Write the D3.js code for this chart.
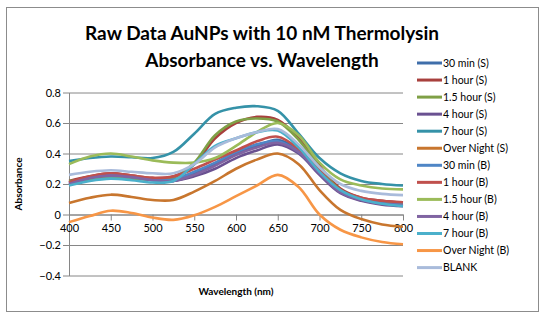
<!DOCTYPE html>
<html lang="en">
<head>
<meta charset="UTF-8">
<script src="https://d3js.org/d3.v7.min.js"></script>
<style>
    body { margin: 0; background: #fff; }
    svg text { font-family: Lato, "Open Sans", sans-serif; fill: #000; }
    .axis path, .axis line { stroke: #868686; }
    .axis text { font-size: 11px; }
</style>
<title>Absorbance vs. Wavelength</title>
</head>
<body>
<svg width="544" height="321"></svg>
<script>
    // wavelength samples (nm)
    const wavelengths = [400, 425, 450, 475, 500, 525, 550, 575, 600, 625, 650, 675, 700, 725, 750, 775, 800];

    const seriesNames = ['30 min (S)', '1 hour (S)', '1.5 hour (S)', '4 hour (S)', '7 hour (S)', 'Over Night (S)',
        '30 min (B)', '1 hour (B)', '1.5 hour (B)', '4 hour (B)', '7 hour (B)', 'Over Night (B)', 'BLANK'];

    const seriesColors = ['#3f6eaa', '#a8403d', '#7fa046', '#6a5191', '#3592a8', '#c8762e',
        '#4f86c6', '#c0504d', '#9bbb59', '#8064a2', '#4bb0cb', '#f79646', '#a9bbdb'];

    // absorbance per series, one value per wavelength
    const min30S  = [0.20, 0.23, 0.25, 0.24, 0.225, 0.22, 0.27, 0.33, 0.40, 0.45, 0.49, 0.42, 0.28, 0.15, 0.10, 0.075, 0.065];
    const hour1S  = [0.22, 0.25, 0.27, 0.255, 0.24, 0.25, 0.33, 0.50, 0.60, 0.64, 0.62, 0.50, 0.32, 0.17, 0.11, 0.09, 0.08];
    const hour15S = [0.22, 0.23, 0.24, 0.235, 0.23, 0.24, 0.34, 0.52, 0.61, 0.63, 0.61, 0.49, 0.31, 0.16, 0.10, 0.08, 0.07];
    const hour4S  = [0.21, 0.245, 0.26, 0.25, 0.23, 0.22, 0.25, 0.30, 0.37, 0.42, 0.46, 0.40, 0.26, 0.14, 0.09, 0.065, 0.055];
    const hour7S  = [0.35, 0.37, 0.38, 0.375, 0.37, 0.41, 0.53, 0.66, 0.70, 0.71, 0.68, 0.53, 0.37, 0.27, 0.22, 0.20, 0.19];
    const nightS  = [0.075, 0.11, 0.13, 0.115, 0.095, 0.095, 0.15, 0.22, 0.30, 0.36, 0.40, 0.33, 0.16, 0.03, -0.03, -0.065, -0.08];
    const min30B  = [0.20, 0.24, 0.26, 0.245, 0.23, 0.23, 0.28, 0.34, 0.41, 0.46, 0.48, 0.41, 0.27, 0.15, 0.10, 0.075, 0.065];
    const hour1B  = [0.21, 0.25, 0.27, 0.255, 0.24, 0.25, 0.30, 0.36, 0.42, 0.48, 0.51, 0.43, 0.29, 0.16, 0.11, 0.09, 0.08];
    const hour15B = [0.33, 0.38, 0.40, 0.38, 0.355, 0.34, 0.34, 0.37, 0.45, 0.54, 0.60, 0.52, 0.34, 0.23, 0.19, 0.17, 0.165];
    const hour4B  = [0.20, 0.24, 0.255, 0.245, 0.225, 0.22, 0.26, 0.32, 0.39, 0.44, 0.47, 0.41, 0.27, 0.145, 0.095, 0.07, 0.06];
    const hour7B  = [0.19, 0.22, 0.235, 0.225, 0.21, 0.22, 0.33, 0.45, 0.50, 0.54, 0.55, 0.44, 0.28, 0.16, 0.10, 0.07, 0.055];
    const nightB  = [-0.05, -0.01, 0.025, 0.01, -0.02, -0.035, -0.005, 0.05, 0.12, 0.19, 0.26, 0.18, 0.0, -0.10, -0.15, -0.18, -0.195];
    const blank   = [0.26, 0.28, 0.29, 0.28, 0.27, 0.27, 0.33, 0.44, 0.50, 0.54, 0.56, 0.46, 0.31, 0.20, 0.155, 0.135, 0.127];

    const seriesValues = [min30S, hour1S, hour15S, hour4S, hour7S, nightS,
        min30B, hour1B, hour15B, hour4B, hour7B, nightB, blank];

    const xTicks = [400, 450, 500, 550, 600, 650, 700, 750, 800];
    const yTicks = [-0.4, -0.2, 0, 0.2, 0.4, 0.6, 0.8];

    const svg = d3.select('svg');

    // chart area border
    svg.append('rect')
        .attr('x', 6.5).attr('y', 7.5)
        .attr('width', 532).attr('height', 304)
        .attr('fill', '#fff')
        .attr('stroke', '#8c8c8c');

    const plot = { left: 69, right: 403, top: 92.5, bottom: 275.5 };

    const x = d3.scaleLinear().domain([400, 800]).range([plot.left, plot.right]);
    const y = d3.scaleLinear().domain([-0.4, 0.8]).range([plot.bottom, plot.top]);

    // horizontal gridlines + y axis
    svg.append('g')
        .attr('class', 'axis')
        .attr('transform', `translate(${plot.left},0)`)
        .call(d3.axisLeft(y).tickValues(yTicks).tickFormat(d3.format('')).tickSizeOuter(0))
        .call(g => g.selectAll('.tick line').clone()
            .attr('x2', plot.right - plot.left))
        .call(g => g.selectAll('.tick text').attr('x', -8));

    // x axis sits on the zero line
    svg.append('g')
        .attr('class', 'axis')
        .attr('transform', `translate(0,${y(0)})`)
        .call(d3.axisBottom(x).tickValues(xTicks).tickSizeOuter(0))
        .call(g => g.selectAll('.tick text').attr('y', 10));

    const line = d3.line()
        .x((d, i) => x(wavelengths[i]))
        .y(d => y(d))
        .curve(d3.curveCatmullRom.alpha(0.5));

    svg.append('g')
        .selectAll('path')
        .data(seriesValues)
        .join('path')
        .attr('d', line)
        .attr('fill', 'none')
        .attr('stroke', (d, i) => seriesColors[i])
        .attr('stroke-width', 2.6);

    // titles
    const title = svg.append('text')
        .attr('text-anchor', 'middle')
        .style('font-weight', 'bold')
        .style('font-size', '19px');
    title.append('tspan').attr('x', 262).attr('y', 40).text('Raw Data AuNPs with 10 nM Thermolysin');
    title.append('tspan').attr('x', 262).attr('y', 67).text('Absorbance vs. Wavelength');

    svg.append('text')
        .attr('text-anchor', 'middle')
        .attr('transform', `translate(22,${(plot.top + plot.bottom) / 2}) rotate(-90)`)
        .style('font-weight', 'bold')
        .style('font-size', '10px')
        .text('Absorbance');

    svg.append('text')
        .attr('text-anchor', 'middle')
        .attr('x', (plot.left + plot.right) / 2)
        .attr('y', 295)
        .style('font-weight', 'bold')
        .style('font-size', '10px')
        .text('Wavelength (nm)');

    // legend
    const legend = svg.append('g')
        .selectAll('g')
        .data(seriesNames)
        .join('g')
        .attr('transform', (d, i) => `translate(417,${63 + i * 17.05})`);

    legend.append('line')
        .attr('x2', 25)
        .attr('stroke', (d, i) => seriesColors[i])
        .attr('stroke-width', 3);

    legend.append('text')
        .attr('x', 26)
        .attr('dy', '0.35em')
        .style('font-size', '10.5px')
        .text(d => d);
</script>
</body>
</html>
